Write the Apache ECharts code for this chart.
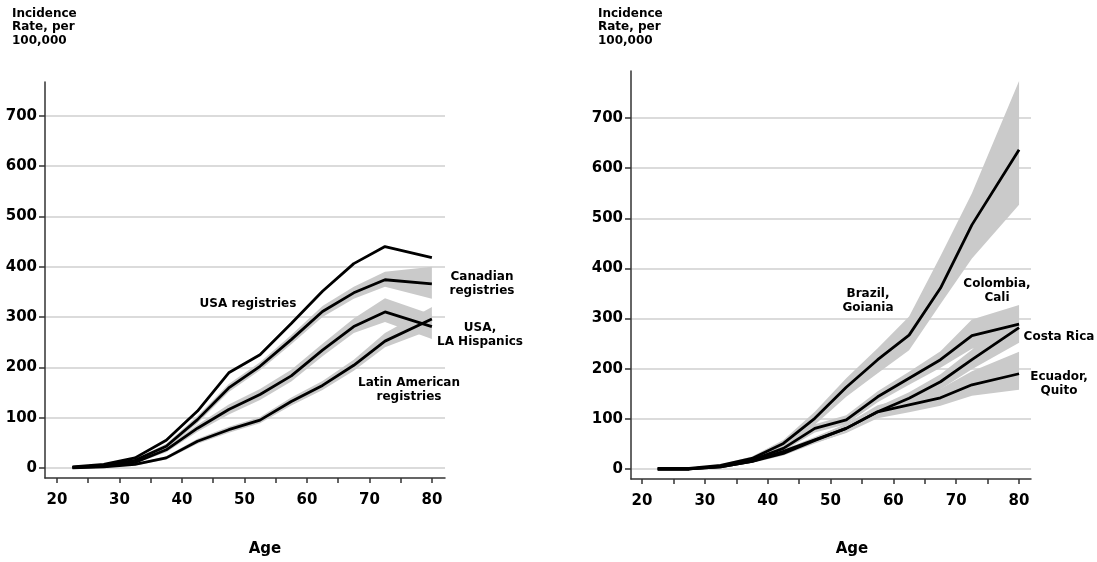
<!DOCTYPE html>
<html>
<head>
<meta charset="utf-8">
<script src="https://cdn.jsdelivr.net/npm/echarts@6/dist/echarts.min.js"></script>
<style>
html,body{margin:0;padding:0;background:#fff;}
#chart{width:1097px;height:562px;}
</style>
</head>
<body>
<div id="chart"></div>
<script>
// ---- Data ----
const ages = [22.5, 27.5, 32.5, 37.5, 42.5, 47.5, 52.5, 57.5, 62.5, 67.5, 72.5, 80];
const xTickValues = [20, 25, 30, 35, 40, 45, 50, 55, 60, 65, 70, 75, 80];
const xLabelValues = [20, 30, 40, 50, 60, 70, 80];
const yTickValues = [0, 100, 200, 300, 400, 500, 600, 700];

// Left panel
const usaRegistries = [2, 7, 20, 55, 113, 189, 225, 287, 351, 406, 440, 418];
const canadianRegistries = [1, 5, 15, 43, 96, 159, 202, 255, 311, 348, 374, 366];
const canadianLow = [0, 3, 12, 38, 89, 151, 194, 246, 300, 336, 360, 336];
const canadianHigh = [2, 7, 18, 48, 103, 167, 210, 264, 322, 360, 390, 400];
const laHispanics = [1, 3, 11, 36, 79, 116, 146, 183, 234, 281, 310, 281];
const laHispanicsLow = [0, 2, 9, 31, 72, 106, 135, 172, 222, 268, 290, 256];
const laHispanicsHigh = [2, 5, 13, 41, 86, 126, 157, 195, 247, 297, 337, 305];
const latinAmerican = [0, 2, 7, 20, 53, 76, 95, 132, 164, 204, 252, 296];
const latinAmericanLow = [0, 1, 5, 17, 48, 70, 89, 124, 155, 193, 240, 275];
const latinAmericanHigh = [1, 3, 9, 23, 58, 82, 101, 140, 173, 215, 268, 320];

// Right panel
const brazil = [1, 1, 7, 21, 51, 101, 163, 218, 267, 361, 487, 637];
const brazilLow = [0, 0, 5, 17, 44, 88, 144, 191, 237, 329, 420, 527];
const brazilHigh = [2, 2, 9, 25, 58, 114, 181, 241, 304, 425, 550, 774];
const colombia = [0, 0, 5, 18, 41, 81, 98, 144, 181, 218, 266, 289];
const colombiaLow = [0, 0, 3, 15, 36, 73, 89, 133, 168, 202, 240, 252];
const colombiaHigh = [1, 1, 7, 21, 46, 89, 107, 155, 194, 235, 298, 327];
const costaRica = [0, 0, 4, 15, 31, 57, 81, 114, 141, 174, 218, 282];
const costaRicaLow = [0, 0, 3, 12, 27, 51, 73, 104, 129, 159, 199, 252];
const costaRicaHigh = [1, 1, 5, 18, 36, 63, 89, 124, 153, 189, 238, 318];
const ecuador = [0, 0, 4, 15, 35, 58, 81, 114, 128, 142, 168, 190];
const ecuadorLow = [0, 0, 3, 13, 31, 52, 72, 101, 113, 126, 146, 158];
const ecuadorHigh = [1, 1, 5, 17, 39, 64, 90, 127, 143, 160, 195, 234];

// ---- Styles ----
const FONT = '"DejaVu Sans", Verdana, sans-serif';
const BAND = '#cacaca';

function bandSeries(low, high, idx) {
  return {
    type: 'custom',
    xAxisIndex: idx, yAxisIndex: idx,
    silent: true,
    encode: { x: 0, y: [1, 2] },
    data: ages.map((a, i) => [a, low[i], high[i]]),
    renderItem: function (params, api) {
      if (params.dataIndex !== 0) return null;
      const pts = [];
      for (let i = 0; i < ages.length; i++) pts.push(api.coord([ages[i], high[i]]));
      for (let i = ages.length - 1; i >= 0; i--) pts.push(api.coord([ages[i], low[i]]));
      return { type: 'polygon', shape: { points: pts }, style: { fill: BAND, stroke: null } };
    },
    z: 2
  };
}
function lineSeries(vals, idx) {
  return {
    type: 'line',
    xAxisIndex: idx, yAxisIndex: idx,
    data: ages.map((a, i) => [a, vals[i]]),
    showSymbol: false, symbol: 'none',
    lineStyle: { color: '#000', width: 2.8 },
    z: 5, silent: true
  };
}
function xAxisDef(idx, min, max) {
  return {
    type: 'value', gridIndex: idx, min: min, max: max,
    axisLine: { onZero: false, lineStyle: { color: '#333', width: 1.5 } },
    axisTick: { customValues: xTickValues, length: 5, lineStyle: { color: '#333', width: 1.5 } },
    axisLabel: { customValues: xLabelValues, margin: 15, color: '#000', fontFamily: FONT, fontWeight: 'bold', fontSize: 15 },
    splitLine: { show: false }
  };
}
function yAxisDef(idx, max) {
  return {
    type: 'value', gridIndex: idx, min: -20, max: max,
    axisLine: { show: true, onZero: false, lineStyle: { color: '#333', width: 1.5 } },
    axisTick: { show: true, customValues: yTickValues, length: 6, lineStyle: { color: '#333', width: 1.5 } },
    axisLabel: { customValues: yTickValues, margin: 8, color: '#000', fontFamily: FONT, fontWeight: 'bold', fontSize: 15 },
    splitLine: { show: true, lineStyle: { color: '#cfcfcf', width: 1.5 } }
  };
}
function txt(text, x, y, opts) {
  const o = opts || {};
  return {
    type: 'text', x: x, y: y, silent: true, z: 100,
    style: {
      text: text, fill: '#000',
      font: 'bold ' + (o.size || 12) + 'px ' + FONT,
      textAlign: o.align || 'center', align: o.align || 'center',
      textVerticalAlign: o.valign || 'middle', verticalAlign: o.valign || 'middle',
      lineHeight: o.lh || 14
    }
  };
}

const chart = echarts.init(document.getElementById('chart'), null, { renderer: 'canvas' });
chart.setOption({
  animation: false,
  backgroundColor: '#fff',
  grid: [
    { left: 45, right: 652, top: 82, bottom: 84 },
    { left: 631, right: 66, top: 71, bottom: 83 }
  ],
  xAxis: [xAxisDef(0, 18.1, 82.1), xAxisDef(1, 18.25, 81.9)],
  yAxis: [yAxisDef(0, 767), yAxisDef(1, 794)],
  series: [
    bandSeries(canadianLow, canadianHigh, 0),
    bandSeries(laHispanicsLow, laHispanicsHigh, 0),
    bandSeries(latinAmericanLow, latinAmericanHigh, 0),
    bandSeries(brazilLow, brazilHigh, 1),
    bandSeries(colombiaLow, colombiaHigh, 1),
    bandSeries(costaRicaLow, costaRicaHigh, 1),
    bandSeries(ecuadorLow, ecuadorHigh, 1),
    lineSeries(usaRegistries, 0),
    lineSeries(canadianRegistries, 0),
    lineSeries(laHispanics, 0),
    lineSeries(latinAmerican, 0),
    lineSeries(brazil, 1),
    lineSeries(colombia, 1),
    lineSeries(costaRica, 1),
    lineSeries(ecuador, 1)
  ],
  graphic: [
    txt('Incidence\nRate, per\n100,000', 12, 7, { align: 'left', valign: 'top', lh: 13.5 }),
    txt('Incidence\nRate, per\n100,000', 598, 7, { align: 'left', valign: 'top', lh: 13.5 }),
    txt('Age', 265, 549, { size: 15 }),
    txt('Age', 852, 549, { size: 15 }),
    txt('USA registries', 248, 304),
    txt('Canadian\nregistries', 482, 284),
    txt('USA,\nLA Hispanics', 480, 335),
    txt('Latin American\nregistries', 409, 390),
    txt('Brazil,\nGoiania', 868, 301),
    txt('Colombia,\nCali', 997, 291),
    txt('Costa Rica', 1059, 337),
    txt('Ecuador,\nQuito', 1059, 384)
  ]
});
</script>
</body>
</html>
